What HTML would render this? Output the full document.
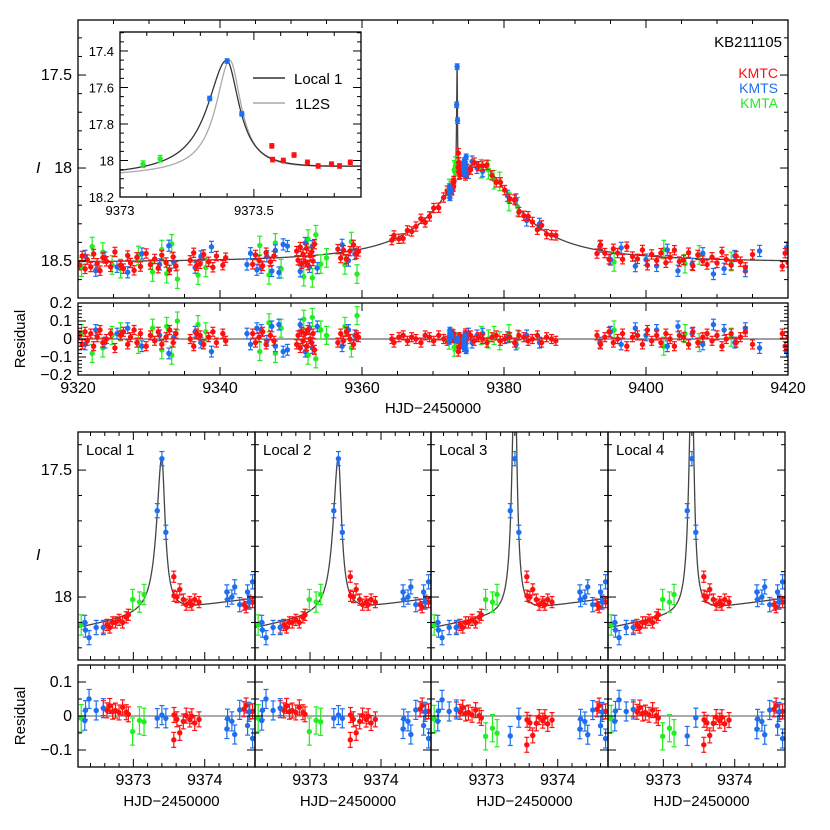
<!DOCTYPE html>
<html><head><meta charset="utf-8"><style>
html,body{margin:0;padding:0;background:#fff;}
svg{display:block;font-family:"Liberation Sans",sans-serif;}
</style></head><body>
<svg id="c" width="830" height="830" viewBox="0 0 830 830"></svg>
<script>
// ---------- data ----------
const redT=[9320.2,9320.6,9321.0,9321.3,9321.8,9322.2,9322.7,9323.1,9323.5,9324.0,9324.6,9325.2,9326.0,9326.4,9327.0,9327.4,9327.9,9328.3,9328.8,9329.6,9330.2,9330.8,9331.3,9331.8,9332.4,9332.9,9333.4,9333.8,9335.8,9336.3,9336.7,9337.2,9337.7,9338.4,9339.0,9339.5,9340.4,9340.8,9344.6,9345.0,9345.5,9346.0,9346.5,9347.1,9347.6,9350.8,9351.0,9351.3,9351.5,9351.7,9352.0,9352.2,9352.4,9352.7,9352.9,9353.1,9353.3,9356.6,9357.0,9357.4,9357.8,9358.3,9358.8,9359.2,9359.5,9364.2,9364.5,9365.2,9365.8,9366.4,9367.0,9367.6,9368.3,9368.9,9369.5,9370.1,9370.8,9371.5,9372.0,9372.6,9373.7,9374.2,9374.7,9375.3,9375.8,9376.4,9377.0,9377.6,9378.3,9378.9,9379.5,9380.1,9380.8,9381.5,9382.1,9382.8,9383.4,9384.0,9384.7,9385.3,9386.0,9386.7,9387.3,9393.1,9393.6,9394.2,9394.8,9395.4,9396.0,9396.7,9397.3,9398.1,9398.8,9399.5,9400.2,9400.8,9401.5,9402.1,9402.8,9403.4,9404.0,9404.7,9405.3,9406.0,9406.6,9407.3,9408.0,9408.6,9409.3,9410.0,9410.7,9411.3,9412.0,9412.7,9413.3,9414.0,9415.0,9419.2,9419.6,9420.0];
const redR=[.02,-.03,.04,-.01,.03,-.04,.01,.05,-.02,.00,.03,-.05,.02,.04,-.03,.01,.05,-.02,.03,-.04,.02,-.01,.04,-.03,.01,.05,-.02,.03,
.00,-.04,.03,.02,-.03,.01,.04,-.02,.03,-.01,
.03,-.02,.01,.04,-.03,.02,-.01,
-.03,.02,-.05,.04,-.01,.03,-.04,.05,.00,-.02,.03,-.06,
-.02,.03,-.01,.04,.00,-.03,.02,.01,
.00,-.02,.01,.02,-.01,.01,.00,-.02,.02,.01,-.01,.02,.00,-.01,.02,.01,-.02,.00,.02,-.01,.01,.00,-.02,.01,.02,-.01,.00,.01,-.02,.02,.01,-.01,.00,.02,-.02,.01,.00,-.01,
.02,-.03,.01,.04,-.02,.00,.03,-.04,.01,.02,-.03,.05,-.01,.02,-.02,.03,.00,-.04,.02,.01,-.03,.04,-.02,.01,.03,-.01,.02,-.04,.00,.03,-.02,.01,.04,-.03,
.03,-.04,.01];
const blueT=[9321,9322.5,9323.8,9325.5,9327,9329,9331.5,9332.8,9333.5,9336.5,9337.3,9338.8,9343.8,9344.3,9345.2,9345.8,9346.6,9347.3,9347.8,9348.3,9348.9,9349.5,9351.3,9352.0,9352.6,9353.0,9353.7,9357.2,9358.1,9359.0,9374.3,9374.6,9375.0,9375.5,9376.2,9377.0,9380.5,9381.7,9383.2,9385.0,9393.5,9395.0,9396.5,9398.5,9400.0,9401.5,9403.0,9404.5,9406.5,9408.0,9409.5,9411.0,9412.5,9414.0,9416.0,9419.8];
const blueR=[-.03,.05,-.02,.03,.06,-.04,.02,-.08,.01,.04,-.02,-.07,.03,-.03,.06,.05,-.01,.07,-.04,.08,-.07,-.06,.08,-.07,.06,-.05,.07,-.04,.05,.02,-.01,.01,.03,-.02,.02,.03,.01,-.03,.02,-.02,-.02,.04,-.03,.06,.02,.05,-.04,.07,.03,-.03,.08,.05,-.02,.06,-.05,-.07];
const greenT=[9320.5,9322,9323.5,9324.8,9326,9328.5,9330.5,9331.8,9332.5,9333.2,9334.0,9336.9,9338.0,9345.6,9346.9,9347.8,9348.6,9351.8,9352.4,9353.0,9353.5,9354.2,9355.0,9357.6,9358.5,9359.3,9376.8,9377.8,9378.6,9379.4,9380.7,9381.9,9395.5,9402.5,9405.5,9407.5,9412.0];
const greenR=[.03,-.08,-.05,.02,.04,-.03,.06,-.06,.07,-.09,.10,.08,.04,-.07,.09,-.08,.06,.11,-.09,.12,-.11,.05,.02,.07,-.05,.13,.02,.00,.02,-.01,.03,.00,.05,-.04,.03,-.02,.01];
// peak-region photometry (HJD, I mag)
const pkBlueT=[9372.32,9372.33,9372.38,9372.48,9372.58,9373.335,9373.40,9373.455,9374.31,9374.32,9374.38,9374.42,9374.49,9374.60,9374.67,9374.62];
const pkBlueM=[18.10,18.13,18.16,18.12,18.12,17.66,17.455,17.745,17.98,18.01,18.00,17.96,18.03,17.98,17.94,18.02];
const pkGreenT=[9372.27,9372.99,9373.086,9373.15];
const pkGreenM=[18.11,18.01,18.02,17.99];
const pkRedT=[9372.58,9372.63,9372.67,9372.71,9372.75,9372.80,9372.85,9372.90,9372.93,9373.567,9373.57,9373.61,9373.65,9373.70,9373.74,9373.79,9373.82,9373.86,9373.92,9374.55,9374.58,9374.63,9374.67];
const pkRedM=[18.12,18.11,18.12,18.10,18.10,18.09,18.10,18.08,18.07,17.92,17.995,18.00,17.97,18.01,18.03,18.02,18.03,18.01,18.02,18.03,18.04,18.02,18.02];
// model parameters
const modelNames=["Local 1","Local 2","Local 3","Local 4"];
const spikeAmp=[1.14,1.14,2.3,2.3];
const spikeWL=[0.075,0.075,0.036,0.036];
const spikeWR=[0.05,0.05,0.03,0.03];

// ---------- model ----------
function model(t,amp,wl,wr,tc){amp=amp===undefined?1.14:amp;wl=wl||0.075;wr=wr||0.05;tc=tc||9373.398;
  const d=(t-9376.2)/5.8, s=(t-tc)/(t<tc?wl:wr);
  const f=1+0.63/(1+d*d)+amp/(1+s*s);
  return 18.51-2.5*Math.log10(f);}

const NS="http://www.w3.org/2000/svg";
const svg=document.getElementById('c');
function el(tag,attrs,parent){const e=document.createElementNS(NS,tag);for(const k in attrs)e.setAttribute(k,attrs[k]);(parent||svg).appendChild(e);return e;}
function txt(s,x,y,attrs,parent){const e=el('text',Object.assign({x:x,y:y,'font-size':15,fill:'#000'},attrs||{}),parent);e.textContent=s;return e;}

function panel(x0,x1,y0,y1,xa,xb,ya,yb){
  return {x0,x1,y0,y1,X:t=>x0+(t-xa)/(xb-xa)*(x1-x0),Y:v=>y0+(v-ya)/(yb-ya)*(y1-y0),xa,xb,ya,yb};
}
function ticks(p,g,xmaj,xmin,ymaj,ymin,opt){
  opt=opt||{};
  const eps=1e-9;
  function tl(a,b,st){const r=[];const lo=Math.min(a,b),hi=Math.max(a,b);for(let v=Math.ceil(lo/st-eps)*st;v<=hi+eps;v+=st)r.push(+v.toFixed(6));return r;}
  const isMaj=(v,st)=>Math.abs(v/st-Math.round(v/st))<1e-6;
  tl(p.xa,p.xb,xmin).forEach(v=>{const x=p.X(v);const L=isMaj(v,xmaj)?8:4;
    el('line',{x1:x,x2:x,y1:p.y1,y2:p.y1-L,stroke:'#000','stroke-width':1},g);
    el('line',{x1:x,x2:x,y1:p.y0,y2:p.y0+L,stroke:'#000','stroke-width':1},g);
    if(opt.xlab&&isMaj(v,xmaj)){const t=txt(opt.xlab(v),x,p.y1+18,{'text-anchor':'middle','font-size':opt.fs||15},g);}
  });
  tl(p.ya,p.yb,ymin).forEach(v=>{const y=p.Y(v);const L=isMaj(v,ymaj)?8:4;
    el('line',{x1:p.x0,x2:p.x0+L,y1:y,y2:y,stroke:'#000','stroke-width':1},g);
    el('line',{x1:p.x1,x2:p.x1-L,y1:y,y2:y,stroke:'#000','stroke-width':1},g);
    if(opt.ylab&&isMaj(v,ymaj)){const t=txt(opt.ylab(v),p.x0-6,y+5,{'text-anchor':'end','font-size':opt.fs||15},g);}
  });
}
function frame(p,g,fill){el('rect',{x:p.x0,y:p.y0,width:p.x1-p.x0,height:p.y1-p.y0,fill:fill||'none',stroke:'#000','stroke-width':1.3},g);}
function curve(p,g,fn,color,w,name){
  let d='';const n=3000;
  const pts=[];for(let i=0;i<=n;i++)pts.push(p.xa+(p.xb-p.xa)*i/n);
  for(let t=9373.0;t<=9373.9;t+=0.002)if(t>p.xa&&t<p.xb)pts.push(t);
  pts.sort((a,b)=>a-b);
  pts.forEach((t,i)=>{d+=(i?'L':'M')+p.X(t).toFixed(2)+','+p.Y(fn(t)).toFixed(2);});
  const c=el('path',{d:d,fill:'none',stroke:color,'stroke-width':w||1.3},g);
  
  
}
function pt(p,g,t,v,err,color,name){
  const x=p.X(t),y=p.Y(v),e1=p.Y(v-err),e2=p.Y(v+err);
  const gg=el('g',{},g);
  
  
  el('line',{x1:x,x2:x,y1:e1,y2:e2,stroke:color,'stroke-width':1.2},gg);
  el('line',{x1:x-2.5,x2:x+2.5,y1:e1,y2:e1,stroke:color,'stroke-width':1.2},gg);
  el('line',{x1:x-2.5,x2:x+2.5,y1:e2,y2:e2,stroke:color,'stroke-width':1.2},gg);
  el('circle',{cx:x,cy:y,r:2.7,fill:color},gg);
}
const RED='#ff1010',BLUE='#1e6ff0',GREEN='#22ee22';
const ERR={r:0.025,b:0.03,g:0.05};

// ---------- top light curve ----------
const topP=panel(78,788,20,298,9320,9420,17.204,18.699);
const topR=panel(78,788,303,375,9320,9420,0.2,-0.2);
const gTop=el('g',{});
const gTopR=el('g',{});
const clip1=el('clipPath',{id:'cl1'});el('rect',{x:78,y:20,width:710,height:278},clip1);
const clip2=el('clipPath',{id:'cl2'});el('rect',{x:78,y:303,width:710,height:72},clip2);
const gTopD=el('g',{'clip-path':'url(#cl1)'},gTop);
const gTopRD=el('g',{'clip-path':'url(#cl2)'},gTopR);
el('line',{x1:78,x2:788,y1:topR.Y(0),y2:topR.Y(0),stroke:'#666','stroke-width':1.2},gTopRD);
curve(topP,gTopD,t=>model(t),'#444',1.3,'main-model-curve');
function plotSet(T,R,err,col,nm){T.forEach((t,i)=>{pt(topP,gTopD,t,model(t)+R[i],err,col,nm+'-point');pt(topR,gTopRD,t,R[i],err,col,nm+'-residual');});}
plotSet(greenT,greenR,ERR.g,GREEN,'kmta');
plotSet(blueT,blueR,ERR.b,BLUE,'kmts');
plotSet(redT,redR,ERR.r,RED,'kmtc');
function plotPk(T,M,err,col,nm){T.forEach((t,i)=>{pt(topP,gTopD,t,M[i],err,col,nm+'-point');pt(topR,gTopRD,t,M[i]-model(t),err,col,nm+'-residual');});}
plotPk(pkGreenT,pkGreenM,ERR.g,GREEN,'kmta');plotPk(pkRedT,pkRedM,ERR.r,RED,'kmtc');plotPk(pkBlueT,pkBlueM,0.015,BLUE,'kmts');
frame(topP,gTop);frame(topR,gTopR);
ticks(topP,gTop,20,5,0.5,0.1,{ylab:v=>String(v),fs:16});
ticks(topR,gTopR,20,5,0.1,0.02,{ylab:v=>(v<0?'\u2212':'')+String(Math.abs(v)),xlab:v=>String(v),fs:16});
txt('I',36,173,{'font-style':'italic','font-size':16,},gTop);
txt('Residual',0,0,{'font-size':15,transform:'translate(25,339) rotate(-90)','text-anchor':'middle',},gTopR);
txt('HJD\u22122450000',433,413,{'text-anchor':'middle','font-size':15,},gTopR);
txt('KB211105',782,47,{'text-anchor':'end','font-size':15,},gTop);
txt('KMTC',778,78,{'text-anchor':'end','font-size':14,fill:RED,},gTop);
txt('KMTS',778,93,{'text-anchor':'end','font-size':14,fill:BLUE,},gTop);
txt('KMTA',778,108,{'text-anchor':'end','font-size':14,fill:GREEN,},gTop);

// ---------- inset ----------
const inP=panel(120,361,32,197,9373,9373.9,17.296,18.2);
const gIn=el('g',{});
el('rect',{x:120,y:32,width:241,height:165,fill:'#fff'},gIn);
const clip3=el('clipPath',{id:'cl3'});el('rect',{x:120,y:32,width:241,height:165},clip3);
const gInD=el('g',{'clip-path':'url(#cl3)'},gIn);
curve(inP,gInD,t=>model(t,1.14,0.055,0.045,9373.41),'#aaa',1.3,'inset-1l2s-curve');
curve(inP,gInD,t=>model(t),'#333',1.3,'inset-local1-curve');
function plotIn(T,M,err,col,nm){T.forEach((t,i)=>{if(t>=9373&&t<=9373.9)pt(inP,gInD,t,M[i],err,col,nm+'-inset-point');});}
plotIn(pkGreenT,pkGreenM,0.018,GREEN,'kmta');plotIn(pkRedT,pkRedM,0.012,RED,'kmtc');plotIn(pkBlueT,pkBlueM,0.012,BLUE,'kmts');
frame(inP,gIn);
ticks(inP,gIn,0.5,0.1,0.2,0.05,{ylab:v=>String(+v.toFixed(1)),xlab:v=>String(v),fs:13});
el('line',{x1:253,x2:285,y1:78,y2:78,stroke:'#333','stroke-width':1.5,},gIn);
txt('Local 1',294,84,{'font-size':15,},gIn);
el('line',{x1:253,x2:285,y1:103,y2:103,stroke:'#aaa','stroke-width':1.5,},gIn);
txt('1L2S',295,109,{'font-size':15,},gIn);

// ---------- bottom four panels ----------
const px=[78,255,431,608,785];
modelNames.forEach((nm,k)=>{
  const x0=px[k],x1=px[k+1];
  const p=panel(x0,x1,432,660,9372.225,9374.704,17.35,18.248);
  const r=panel(x0,x1,665,767,9372.225,9374.704,0.15,-0.15);
  const g=el('g',{});
  const cid='cb'+k,rid='cr'+k;
  const c1=el('clipPath',{id:cid});el('rect',{x:x0,y:432,width:x1-x0,height:228},c1);
  const c2=el('clipPath',{id:rid});el('rect',{x:x0,y:665,width:x1-x0,height:102},c2);
  const gd=el('g',{'clip-path':'url(#'+cid+')'},g);
  const gr=el('g',{'clip-path':'url(#'+rid+')'},g);
  el('line',{x1:x0,x2:x1,y1:r.Y(0),y2:r.Y(0),stroke:'#777','stroke-width':1.2},gr);
  const fn=t=>model(t,spikeAmp[k],spikeWL[k],spikeWR[k]);
  curve(p,gd,fn,'#444',1.3,'local-'+(k+1)+'-model-curve');
  function ps(T,M,err,col,n){T.forEach((t,i)=>{pt(p,gd,t,M[i],err,col,n+'-point');pt(r,gr,t,M[i]-fn(t),err,col,n+'-residual');});}
  ps(pkGreenT,pkGreenM,0.04,GREEN,'kmta');ps(pkRedT,pkRedM,0.022,RED,'kmtc');ps(pkBlueT,pkBlueM,0.028,BLUE,'kmts');
  frame(p,g);frame(r,g);
  ticks(p,g,1,0.2,0.5,0.1,k===0?{ylab:v=>String(v),fs:16}:{});
  ticks(r,g,1,0.2,0.1,0.05,Object.assign({xlab:v=>String(v),fs:16},k===0?{ylab:v=>(v<0?'\u2212':'')+String(Math.abs(v))}:{}));
  txt(nm,x0+8,455,{'font-size':15,},g);
  txt('HJD\u22122450000',(x0+x1)/2+5,806,{'text-anchor':'middle','font-size':15,},g);
});
txt('I',36,560,{'font-style':'italic','font-size':16,});
txt('Residual',0,0,{'font-size':15,transform:'translate(25,716) rotate(-90)','text-anchor':'middle',});
</script>
</body></html>
